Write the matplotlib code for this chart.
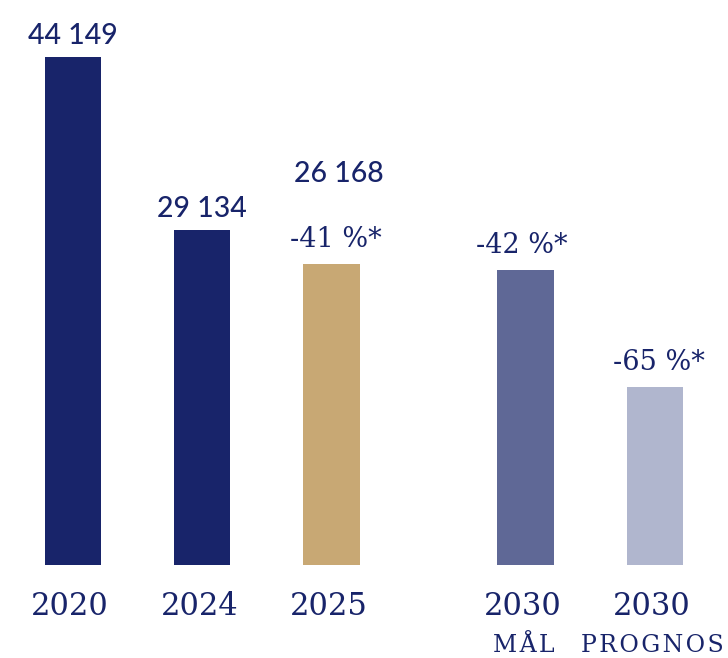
import matplotlib.pyplot as plt

# Emissions per year, with the reduction vs 2020 for later years
years = ["2020", "2024", "2025", "2030", "2030"]
subtitles = ["", "", "", "MÅL", "PROGNOS"]
values = [44149, 29134, 26168, 25606, 15452]
value_labels = ["44 149", "29 134", "26 168", None, None]
pct_labels = [None, None, "-41 %*", "-42 %*", "-65 %*"]
positions = [0, 1, 2, 3.5, 4.5]

colors = ["#18246a", "#18246a", "#c8a874", "#5f6896", "#b0b6ce"]
navy = "#18246a"

fig = plt.figure(figsize=(7.28, 6.58), dpi=100)
ax = fig.add_axes([0, 0, 1, 1])

ax.bar(positions, values, width=0.435, color=colors)

ax.set_xlim(-0.565, 5.066)
ax.set_ylim(-8082, 49101)
ax.axis("off")

sans = "Lato"
serif = ["DejaVu Serif"]


def spaced(s):
    # widen the caps a little with hair spaces between letters
    return "\u200a".join(s)


for x, v, vl, pl in zip(positions, values, value_labels, pct_labels):
    # percent label sits just above the bar, value label above that
    if pl is not None:
        ax.annotate(pl, (x, v), xytext=(4 if x != 3.5 else -4, 17),
                    textcoords="offset pixels", ha="center", va="baseline",
                    fontsize=19.5, color=navy, family=serif)
    if vl is not None:
        dy = 82 if pl is not None else 13
        ax.annotate(vl, (x, v), xytext=(7 if pl else 0, dy),
                    textcoords="offset pixels", ha="center", va="baseline",
                    fontsize=20.5, color=navy, family=sans, fontweight="medium")

for x, yr, sub in zip(positions, years, subtitles):
    ax.annotate(yr, (x, 0), xytext=(-3, -50), textcoords="offset pixels",
                ha="center", va="baseline", fontsize=22, color=navy,
                family=serif)
    if sub:
        ax.annotate(spaced(sub), (x, 0), xytext=(-2, -87),
                    textcoords="offset pixels", ha="center", va="baseline",
                    fontsize=17, color=navy, family=serif)

fig.savefig("out.png", dpi=100)
